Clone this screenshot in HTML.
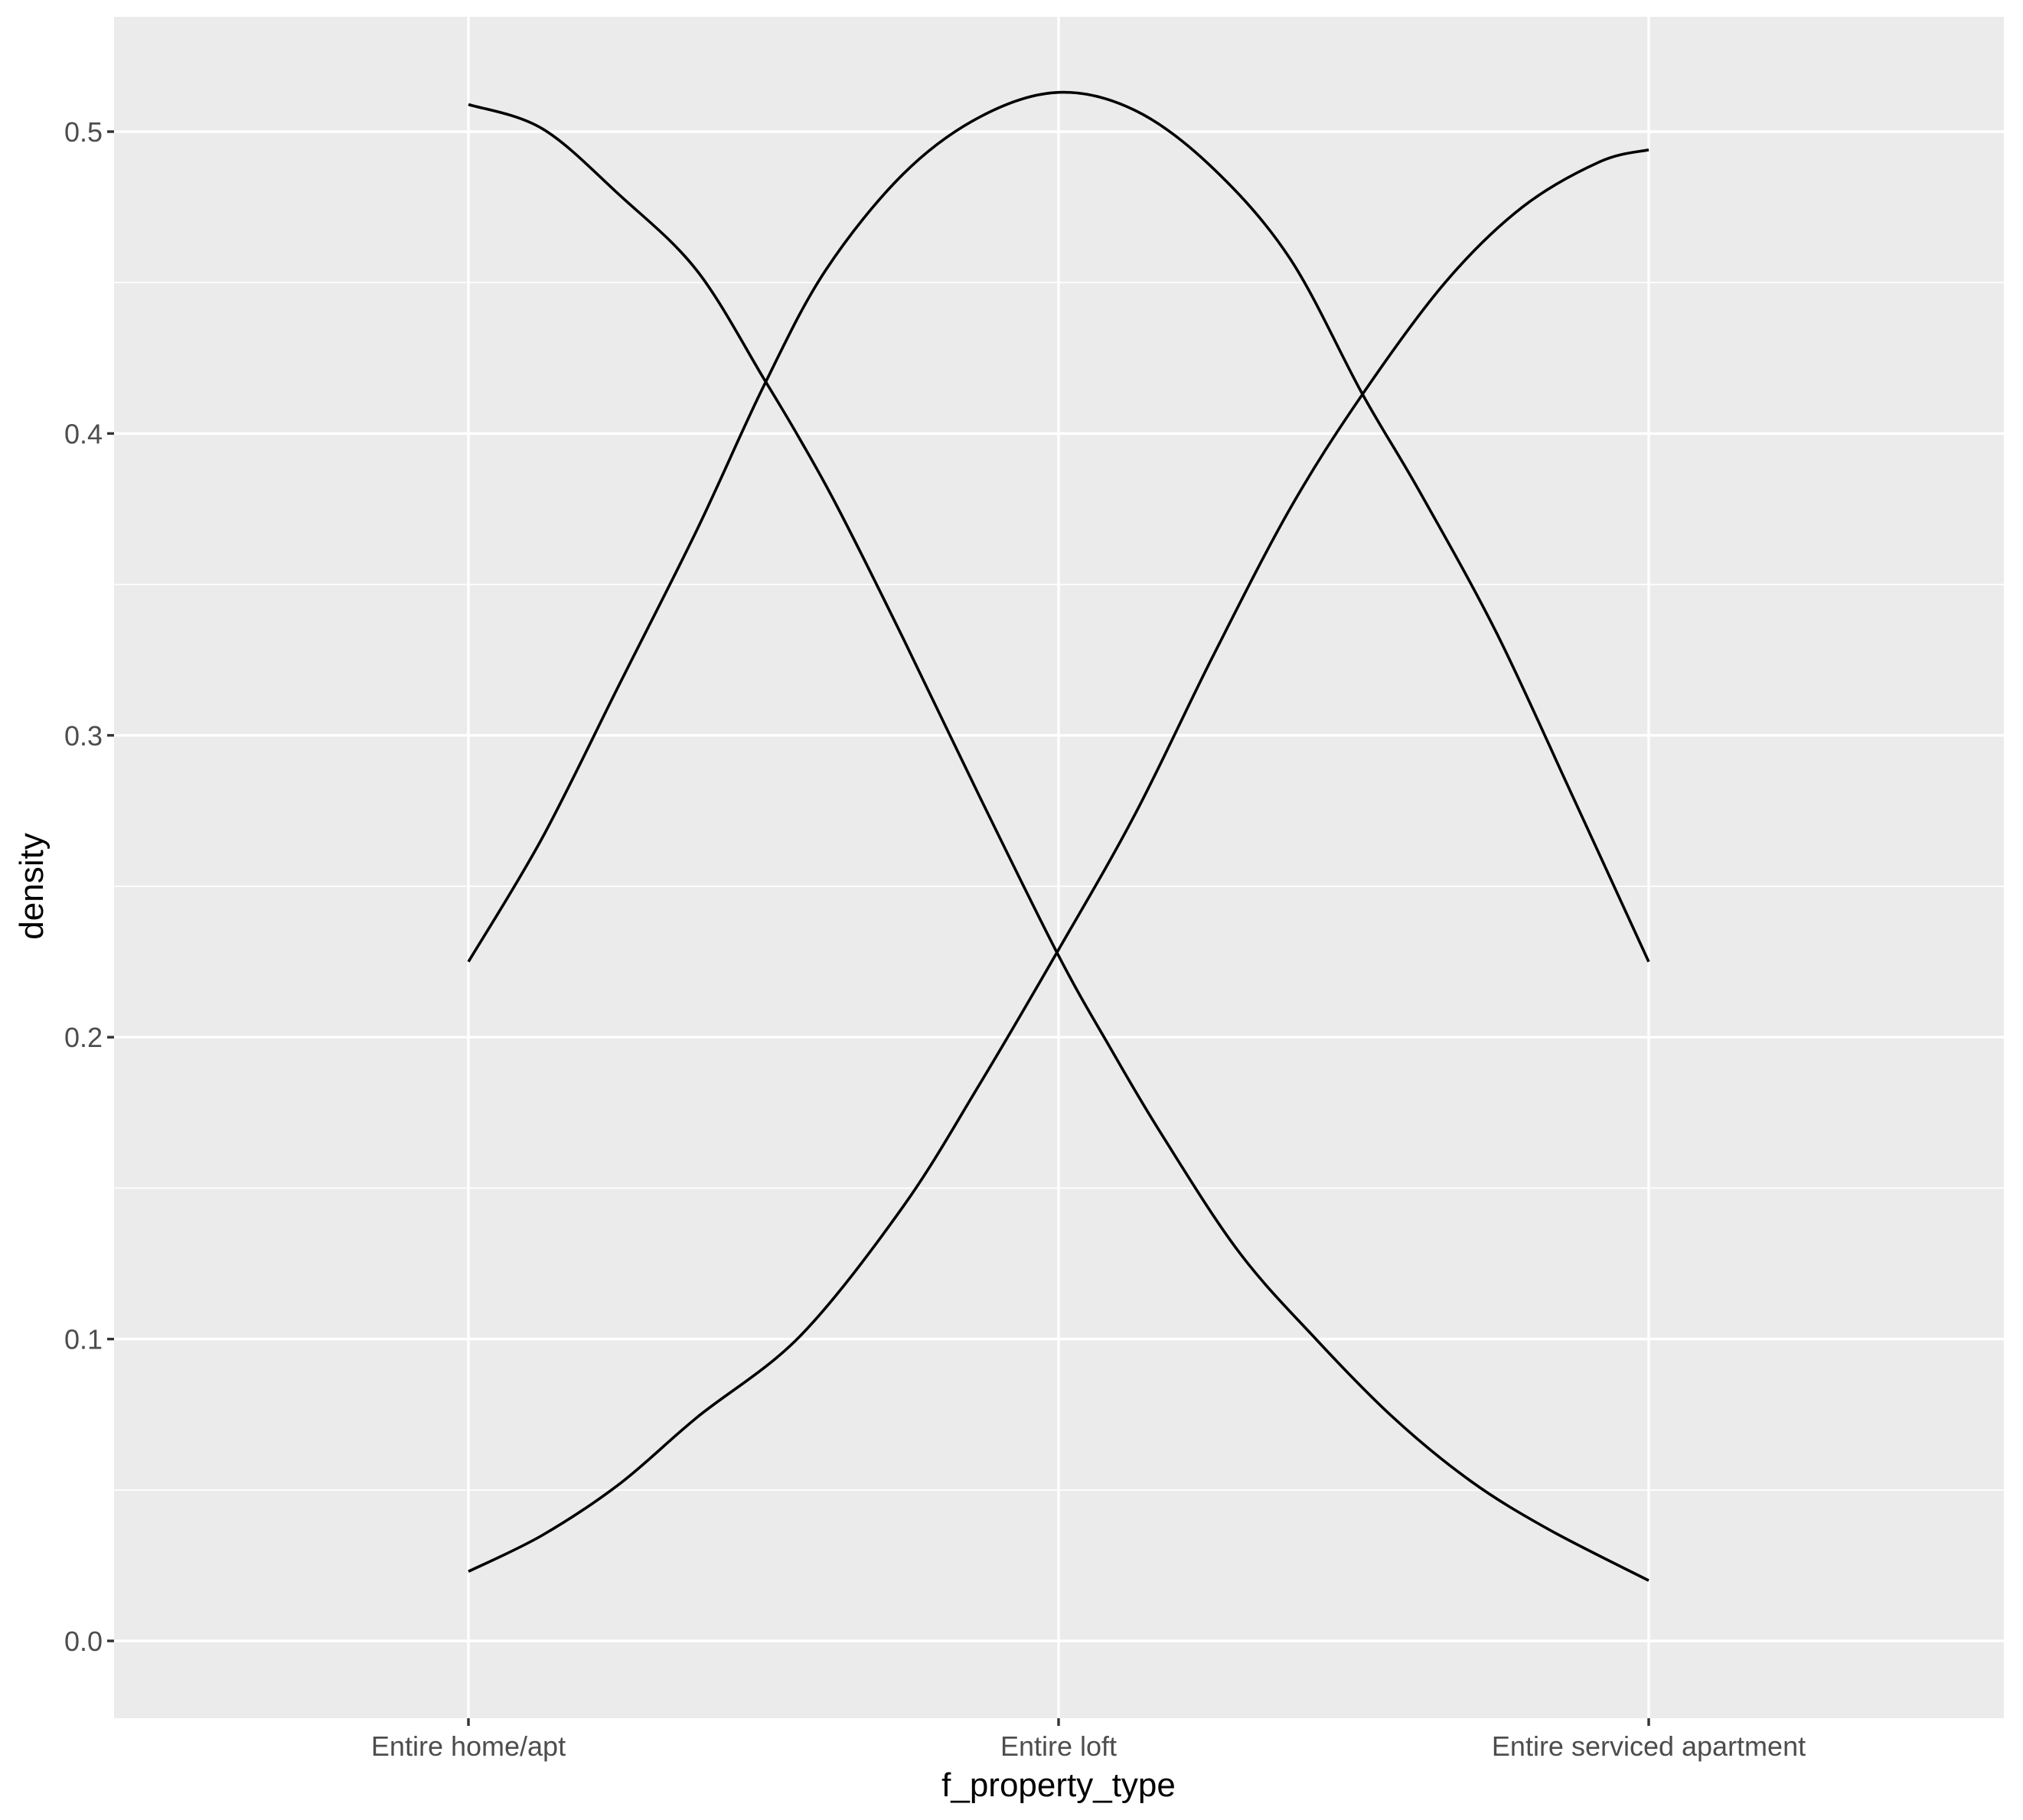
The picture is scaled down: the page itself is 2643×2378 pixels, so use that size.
<!DOCTYPE html>
<html><head><meta charset="utf-8"><style>
html,body{margin:0;padding:0;background:#fff;}
svg{display:block;font-family:"Liberation Sans",Arial,sans-serif;}
</style></head><body>
<svg id="chart" width="2643" height="2378" viewBox="0 0 2643 2378">
<rect x="0" y="0" width="2643" height="2378" fill="#fff"/>
<rect x="149" y="22" width="2469" height="2223" fill="#ebebeb"/>
<g id="grid"></g>
<g id="series"></g>
<g id="axes"></g>
<text x="1383" y="2347" font-size="44" text-anchor="middle" fill="#000">f_property_type</text>
<text x="0" y="0" font-size="44" text-anchor="middle" fill="#000" transform="translate(56,1158) rotate(-90)">density</text>
</svg>
<script>
const categories = ["Entire home/apt","Entire loft","Entire serviced apartment"];
const yTicks = [0.0,0.1,0.2,0.3,0.4,0.5];
const yTickLabels = ["0.0","0.1","0.2","0.3","0.4","0.5"];
const seriesAX = [1,1.125,1.256,1.387,1.501,1.562,1.627,1.737,1.868,2,2.086,2.174,2.305,2.436,2.567,2.698,2.83,3];
const seriesAY = [0.509,0.501,0.479,0.454,0.418,0.398,0.375,0.332,0.279,0.227,0.197,0.168,0.129,0.100,0.074,0.053,0.037,0.020];
const seriesBX = [1,1.125,1.256,1.387,1.501,1.605,1.737,1.868,2,2.13,2.261,2.392,2.515,2.611,2.742,2.873,3];
const seriesBY = [0.225,0.266,0.317,0.368,0.416,0.454,0.486,0.505,0.513,0.507,0.488,0.458,0.413,0.381,0.334,0.279,0.225];
const seriesCX = [1,1.125,1.256,1.387,1.562,1.737,1.868,2,2.13,2.261,2.392,2.515,2.655,2.786,2.917,3];
const seriesCY = [0.023,0.035,0.052,0.074,0.101,0.144,0.185,0.229,0.274,0.326,0.375,0.413,0.450,0.475,0.490,0.494];

const NS="http://www.w3.org/2000/svg";
const px0=149, px1=2618, py0=22, py1=2245;
function xScale(v){return 612+(v-1)*771;}
function yScale(v){return 2144-v*3944;}
function mk(tag,attrs,parent){const e=document.createElementNS(NS,tag);for(const k in attrs)e.setAttribute(k,attrs[k]);parent.appendChild(e);return e;}
const grid=document.getElementById('grid'), axes=document.getElementById('axes'), series=document.getElementById('series');
for(let i=0;i<yTicks.length-1;i++){
  const m=(yTicks[i]+yTicks[i+1])/2;
  const l=mk('line',{x1:px0,x2:px1,y1:yScale(m),y2:yScale(m),stroke:'#fff','stroke-width':1.7},grid);
  
  
}
yTicks.forEach((t,i)=>{
  const l=mk('line',{x1:px0,x2:px1,y1:yScale(t),y2:yScale(t),stroke:'#fff','stroke-width':3.4},grid);
  
  
  const tk=mk('line',{x1:px0-9,x2:px0,y1:yScale(t),y2:yScale(t),stroke:'#333','stroke-width':3.4},axes);
  
  
  const tx=mk('text',{x:px0-15,y:yScale(t)+13,'font-size':36,'text-anchor':'end',fill:'#4d4d4d'},axes);
  tx.textContent=yTickLabels[i];
  
  
});
categories.forEach((c,i)=>{
  const x=xScale(i+1);
  const l=mk('line',{x1:x,x2:x,y1:py0,y2:py1,stroke:'#fff','stroke-width':3.4},grid);
  
  
  const tk=mk('line',{x1:x,x2:x,y1:py1,y2:py1+10,stroke:'#333','stroke-width':3.4},axes);
  
  
  const tx=mk('text',{x:x,y:2294,'font-size':36,'text-anchor':'middle',fill:'#4d4d4d'},axes);
  tx.textContent=c;
  
  
});
function draw(xs,ys,name){
  const P=xs.map((x,i)=>[xScale(x),yScale(ys[i])]);
  let d='M'+P[0][0].toFixed(1)+' '+P[0][1].toFixed(1);
  for(let i=0;i<P.length-1;i++){
    const p0=P[Math.max(i-1,0)],p1=P[i],p2=P[i+1],p3=P[Math.min(i+2,P.length-1)];
    const c1=[p1[0]+(p2[0]-p0[0])/6,p1[1]+(p2[1]-p0[1])/6];
    const c2=[p2[0]-(p3[0]-p1[0])/6,p2[1]-(p3[1]-p1[1])/6];
    d+=' C'+c1[0].toFixed(1)+' '+c1[1].toFixed(1)+' '+c2[0].toFixed(1)+' '+c2[1].toFixed(1)+' '+p2[0].toFixed(1)+' '+p2[1].toFixed(1);
  }
  const p=mk('path',{d:d,fill:'none',stroke:'#000','stroke-width':3.6,'stroke-linejoin':'round'},series);
  
  
}
draw(seriesAX,seriesAY,'density-curve-home-apt');
draw(seriesBX,seriesBY,'density-curve-loft');
draw(seriesCX,seriesCY,'density-curve-serviced-apartment');
</script>
</body></html>
